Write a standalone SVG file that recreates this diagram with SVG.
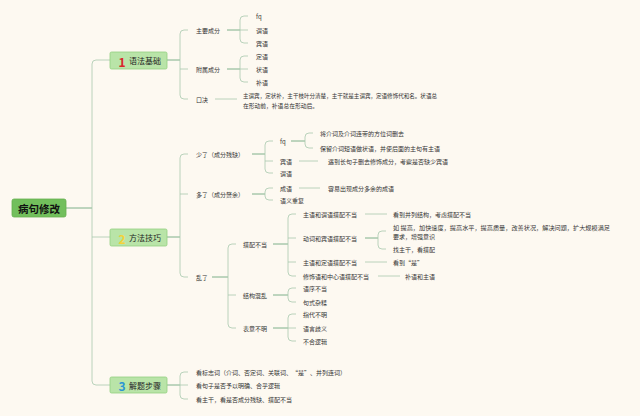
<svg xmlns="http://www.w3.org/2000/svg" width="640" height="416" viewBox="0 0 640 416">
<style>
text{font-family:"Noto Sans CJK SC","Noto Sans",sans-serif;fill:#333;dominant-baseline:central}
.t{font-size:6px}
.m{font-size:8px;fill:#222}
.n{font-size:12px;font-weight:bold}
.c{fill:none;stroke:#a8c9ae;stroke-width:0.8}
.d{fill:none;stroke:#5e9f72;stroke-width:0.8}
.box{fill:#b9e4a8;stroke:#93cf80;stroke-width:0.8}
</style>
<rect width="640" height="416" fill="#fdf9f1"/>
<g id="connectors">
<path class="d" d="M66,208 H92"/>
<path class="c" d="M110,60 H96 Q92,60 92,64 V381 Q92,385 96,385 H110 M92,237 H110"/>
<path class="d" d="M167,60 H180"/>
<path class="c" d="M188,30 H184 Q180,30 180,34 V95 Q180,99 184,99 H188 M180,69 H188"/>
<path class="d" d="M227,30 H240 M227,69 H240"/>
<path class="c" d="M248,16 H244 Q240,16 240,20 V39 Q240,43 244,43 H248 M240,30 H248"/>
<path class="c" d="M248,56 H244 Q240,56 240,60 V78 Q240,82 244,82 H248 M240,69 H248"/>
<path class="c" d="M215,99 H237"/>
<path class="d" d="M167,237 H180"/>
<path class="c" d="M188,154 H184 Q180,154 180,158 V273 Q180,277 184,277 H188 M180,194 H188"/>
<path class="d" d="M252,154 H265 M252,194 H265 M212,277 H228"/>
<path class="c" d="M273,141 H269 Q265,141 265,145 V169 Q265,173 269,173 H273 M265,161 H273"/>
<path class="c" d="M273,188 H269 Q265,188 265,192 V196 Q265,200 269,200 H273"/>
<path class="d" d="M291,141 H305"/>
<path class="c" d="M313,133 H309 Q305,133 305,137 V144 Q305,148 309,148 H313"/>
<path class="c" d="M299,161 H318 M299,188 H320"/>
<path class="c" d="M236,244 H232 Q228,244 228,248 V324 Q228,328 232,328 H236 M228,295 H236"/>
<path class="d" d="M273,244 H288 M273,295 H288 M273,328 H288"/>
<path class="c" d="M296,214 H292 Q288,214 288,218 V272 Q288,276 292,276 H296 M288,238 H296 M288,262 H296"/>
<path class="c" d="M365,214 H387 M365,262 H387 M378,276 H400"/>
<path class="d" d="M365,238 H378"/>
<path class="c" d="M386,231 H382 Q378,231 378,235 V245 Q378,249 382,249 H386"/>
<path class="c" d="M296,288 H292 Q288,288 288,292 V298 Q288,302 292,302 H296"/>
<path class="c" d="M296,314 H292 Q288,314 288,318 V337 Q288,341 292,341 H296 M288,328 H296"/>
<path class="d" d="M167,385 H180"/>
<path class="c" d="M188,372 H184 Q180,372 180,376 V395 Q180,399 184,399 H188 M180,385 H188"/>
</g>
<g id="root">
<rect x="12" y="199" width="54" height="18" rx="2" fill="#72bf5c" stroke="#64b04f" stroke-width="0.8"/>
<text x="39" y="208" text-anchor="middle" style="font-size:10.5px;font-weight:bold;fill:#111">病句修改</text>
</g>
<g id="n1">
<rect class="box" x="110" y="52" width="57" height="17" rx="1.5"/>
<text class="n" x="122" y="61" text-anchor="middle" style="fill:#d9262a">1</text>
<text class="m" x="129" y="60.5">语法基础</text>
</g>
<g id="n2">
<rect class="box" x="110" y="229" width="57" height="17" rx="1.5"/>
<text class="n" x="122" y="238" text-anchor="middle" style="fill:#f3d23a">2</text>
<text class="m" x="129" y="237.5">方法技巧</text>
</g>
<g id="n3">
<rect class="box" x="110" y="377" width="57" height="16" rx="1.5"/>
<text class="n" x="122" y="385.5" text-anchor="middle" style="fill:#2b95d4">3</text>
<text class="m" x="129" y="385">解题步骤</text>
</g>
<g id="n1-children">
<text class="t" x="196" y="30">主要成分</text>
<text class="t" x="196" y="69">附属成分</text>
<text class="t" x="196" y="99">口决</text>
<text class="t" x="256" y="16">fq</text>
<text class="t" x="256" y="30">谓语</text>
<text class="t" x="256" y="43">宾语</text>
<text class="t" x="256" y="56">定语</text>
<text class="t" x="256" y="69">状语</text>
<text class="t" x="256" y="82">补语</text>
<text class="t" x="243" y="95" textLength="194" lengthAdjust="spacingAndGlyphs">主谓宾，定状补，主干枝叶分清楚，主干就是主谓宾，定语修饰代和名。状语总</text>
<text class="t" x="243" y="105" textLength="75" lengthAdjust="spacingAndGlyphs">在形动前，补语总在形动后。</text>
</g>
<g id="n2-children">
<text class="t" x="196" y="154">少了（成分残缺）</text>
<text class="t" x="196" y="194">多了（成分赘余）</text>
<text class="t" x="196" y="277">乱了</text>
<text class="t" x="280" y="141">fq</text>
<text class="t" x="280" y="161">宾语</text>
<text class="t" x="280" y="173">谓语</text>
<text class="t" x="320" y="133">将介词及介词连带的方位词删去</text>
<text class="t" x="320" y="148">保留介词短语做状语，并使后面的主句有主语</text>
<text class="t" x="328" y="161">遇到长句子删去修饰成分，考察是否缺少宾语</text>
<text class="t" x="280" y="188">成语</text>
<text class="t" x="280" y="200">语义重复</text>
<text class="t" x="328" y="188">容易出现成分多余的成语</text>
<text class="t" x="243" y="244">搭配不当</text>
<text class="t" x="243" y="295">结构混乱</text>
<text class="t" x="243" y="328">表意不明</text>
<text class="t" x="303" y="214">主语和谓语搭配不当</text>
<text class="t" x="303" y="238">动词和宾语搭配不当</text>
<text class="t" x="303" y="262">主语和定语搭配不当</text>
<text class="t" x="303" y="276">修饰语和中心语搭配不当</text>
<text class="t" x="393" y="214">看到并列结构，考虑搭配不当</text>
<text class="t" x="393" y="227" textLength="217" lengthAdjust="spacingAndGlyphs">如 提高，加快速度，提高水平，提高质量，改善状况，解决问题，扩大规模满足</text>
<text class="t" x="393" y="236">要求，增强意识</text>
<text class="t" x="393" y="249">找主干，看搭配</text>
<text class="t" x="393" y="262">看到“是”</text>
<text class="t" x="405" y="276">补语和主语</text>
<text class="t" x="303" y="288">语序不当</text>
<text class="t" x="303" y="302">句式杂糅</text>
<text class="t" x="303" y="314">指代不明</text>
<text class="t" x="303" y="328">语言歧义</text>
<text class="t" x="303" y="341">不合逻辑</text>
</g>
<g id="n3-children">
<text class="t" x="196" y="372">看标志词（介词、否定词、关联词、“是”、并列连词）</text>
<text class="t" x="196" y="385">看句子是否予以明确、合乎逻辑</text>
<text class="t" x="196" y="399">看主干，看是否成分残缺、搭配不当</text>
</g>
</svg>
